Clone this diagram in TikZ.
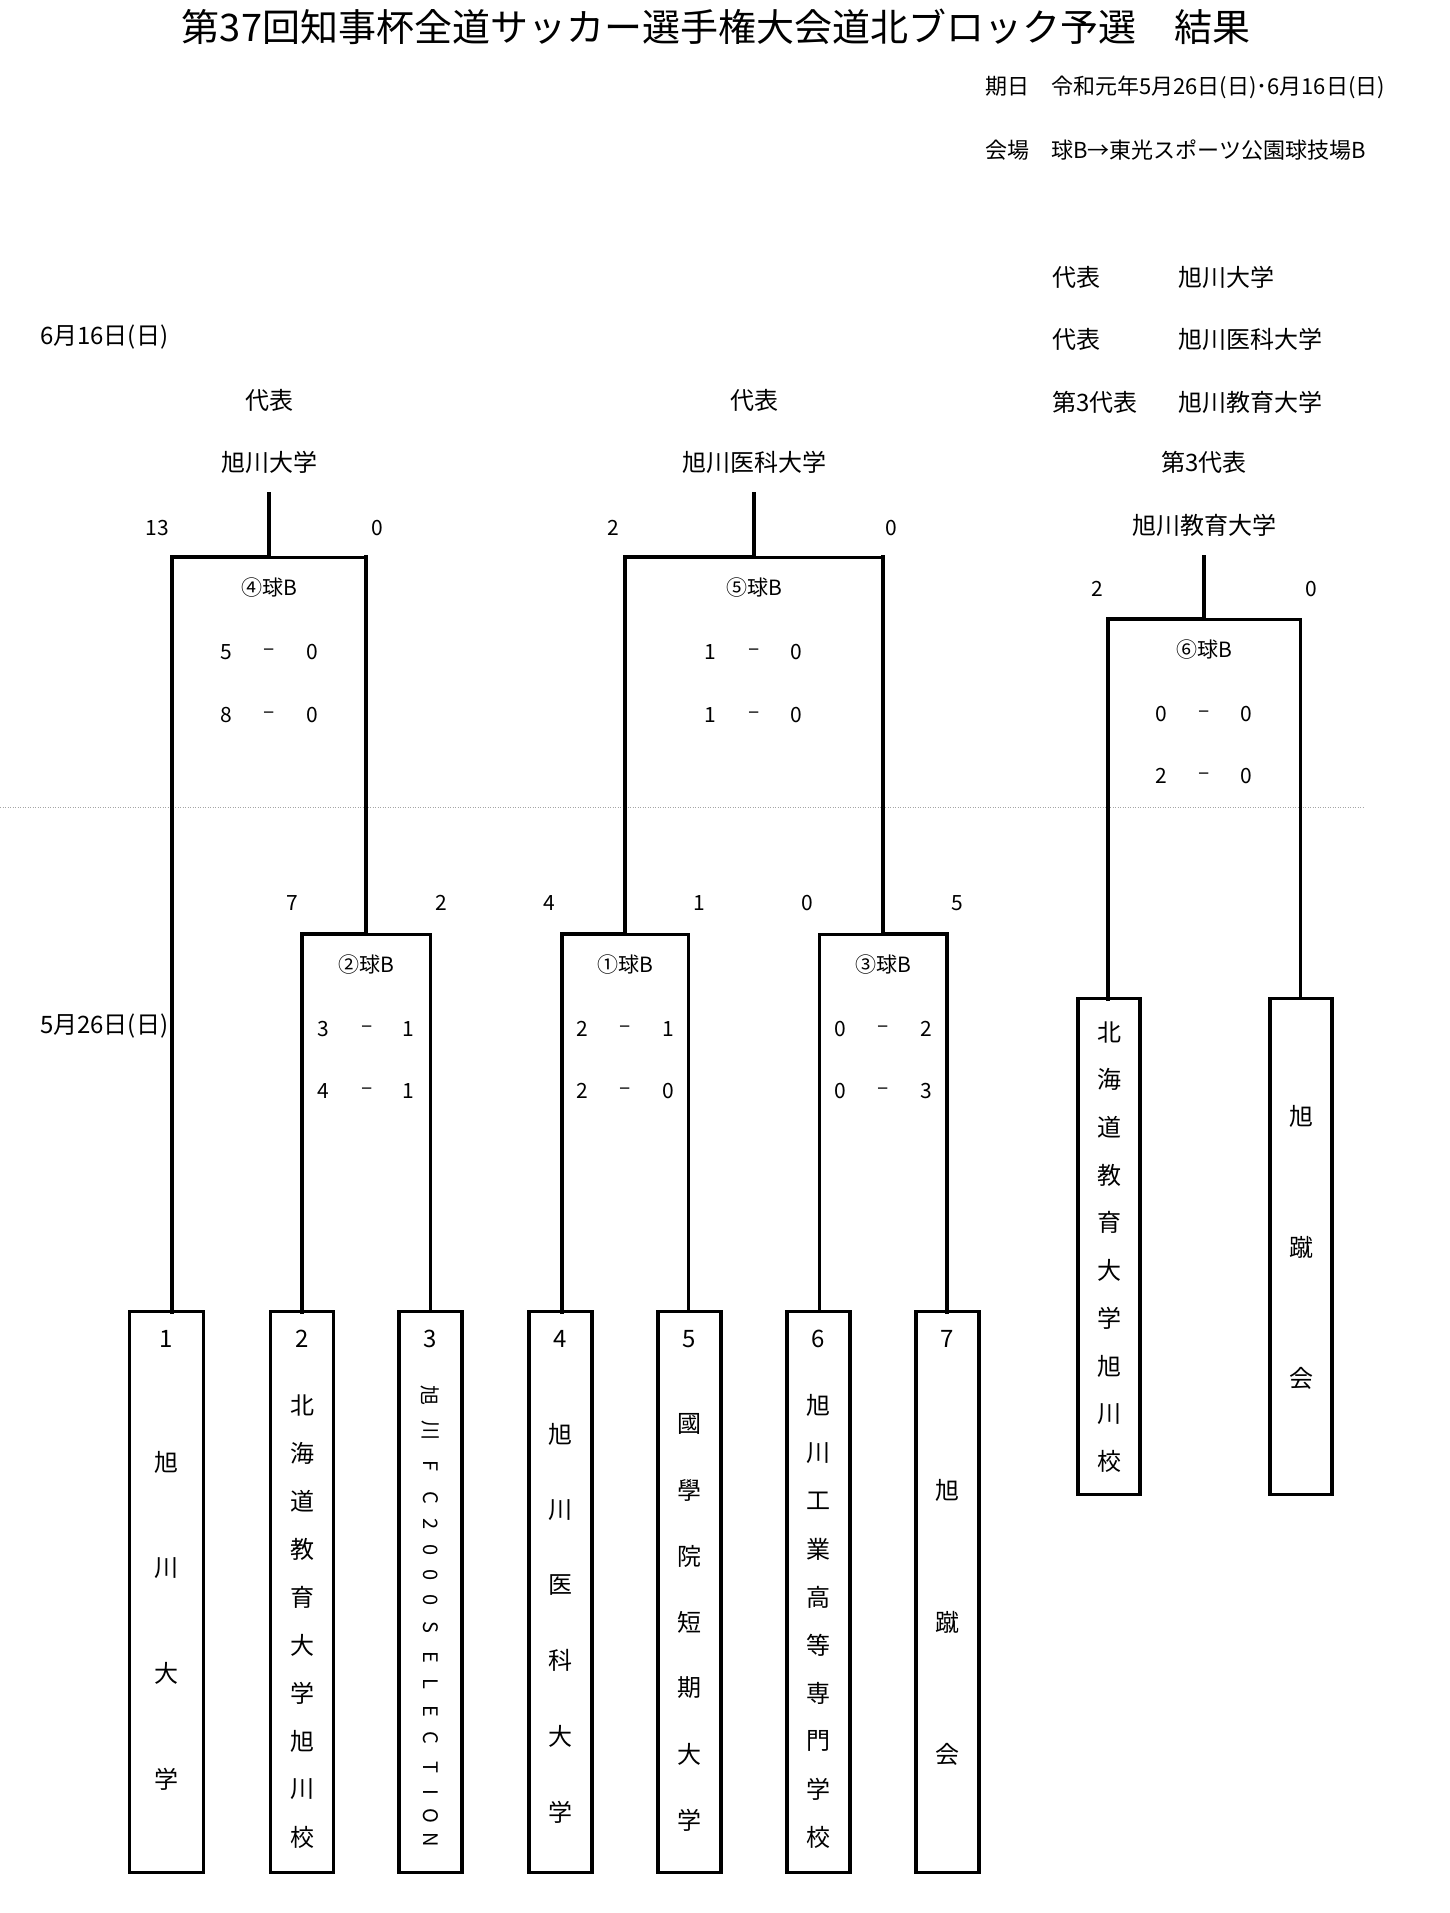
\documentclass[tikz,border=0pt]{standalone}
\usepackage{fontspec}
\setmainfont{Noto Sans CJK JP}
\begin{document}
\begin{tikzpicture}[x=1pt,y=-1pt,
  every node/.style={inner sep=0pt, outer sep=0pt},
  lab/.style={font=\fontsize{24}{28}\selectfont},
  sml/.style={font=\fontsize{21}{25}\selectfont},
  hdr/.style={font=\fontsize{22}{26}\selectfont},
  ttl/.style={font=\fontsize{38}{42}\selectfont},
  rot/.style={font=\fontsize{20}{24}\selectfont, rotate=-90},
  teambox/.style={draw, line width=3.2pt, minimum width=63pt, minimum height=561pt},
  sidebox/.style={draw, line width=3.2pt, minimum width=62pt, minimum height=496pt},
  win/.style={line width=4.6pt},
  lose/.style={line width=3pt},
  line cap=rect, line join=miter]
\fill[white] (0,0) rectangle (1450,1913);
\useasboundingbox (0,0) rectangle (1450,1913);

% title and header
\node[ttl] (title) at (716,27) {第37回知事杯全道サッカー選手権大会道北ブロック予選　結果};
\node[hdr, anchor=west] (date) at (985,87) {期日　令和元年5月26日(日)･6月16日(日)};
\node[hdr, anchor=west] (venue) at (985,150) {会場　球B→東光スポーツ公園球技場B};

% representatives list
\node[lab, anchor=west] (r1a) at (1052,277) {代表};
\node[lab, anchor=west] (r1b) at (1178,277) {旭川大学};
\node[lab, anchor=west] (r2a) at (1052,339) {代表};
\node[lab, anchor=west] (r2b) at (1178,339) {旭川医科大学};
\node[lab, anchor=west] (r3a) at (1052,402) {第3代表};
\node[lab, anchor=west] (r3b) at (1178,402) {旭川教育大学};

\node[lab, anchor=west] (d2) at (40,337) {6月16日(日)};
\node[lab, anchor=west] (d1) at (40,1026) {5月26日(日)};

% winners
\node[lab] (w4a) at (269,400) {代表};
\node[lab] (w4b) at (269,462) {旭川大学};
\node[lab] (w5a) at (754,400) {代表};
\node[lab] (w5b) at (754,462) {旭川医科大学};
\node[lab] (w6a) at (1204,462) {第3代表};
\node[lab] (w6b) at (1204,525) {旭川教育大学};

% dotted line
\coordinate (dl) at (0,807);
\coordinate (dr) at (1365,807);
\draw[black!35, line width=1pt, dash pattern=on 1pt off 1.5pt, line cap=butt] (dl) -- (dr);

% team boxes
\node[teambox, minimum width=74pt] (b1) at (166.5,1592) {};
\node[teambox] (b2) at (302,1592) {};
\node[teambox] (b3) at (430.5,1592) {};
\node[teambox] (b4) at (560.5,1592) {};
\node[teambox] (b5) at (689.5,1592) {};
\node[teambox] (b6) at (818.5,1592) {};
\node[teambox] (b7) at (947.5,1592) {};
\node[sidebox] (rb1) at (1109,1246.5) {};
\node[sidebox] (rb2) at (1301,1246.5) {};

% numbers
\node[lab] (n1) at (166.5,1339) {1};
\node[lab] (n2) at (302,1339) {2};
\node[lab] (n3) at (430.5,1339) {3};
\node[lab] (n4) at (560.5,1339) {4};
\node[lab] (n5) at (689.5,1339) {5};
\node[lab] (n6) at (818.5,1339) {6};
\node[lab] (n7) at (947.5,1339) {7};

% vertical names
\foreach \c [count=\k] in {旭,川,大,学}
  \node[lab] (t1c\k) at (166.5,{1462+(\k-1)*105.7}) {\c};
\foreach \c [count=\k] in {北,海,道,教,育,大,学,旭,川,校}
  \node[lab] (t2c\k) at (302,{1405+(\k-1)*48}) {\c};
\foreach \c/\yy [count=\k] in {旭/1395,川/1430,F/1466,C/1498,2/1524,0/1550,0/1575,0/1600,S/1627,E/1657,L/1684,E/1711,C/1738,T/1767,I/1792,O/1816,N/1840}
  \node[rot] (t3c\k) at (430.5,\yy) {\c};
\foreach \c [count=\k] in {旭,川,医,科,大,学}
  \node[lab] (t4c\k) at (560.5,{1434+(\k-1)*75.6}) {\c};
\foreach \c [count=\k] in {國,學,院,短,期,大,学}
  \node[lab] (t5c\k) at (689.5,{1424+(\k-1)*66}) {\c};
\foreach \c [count=\k] in {旭,川,工,業,高,等,専,門,学,校}
  \node[lab] (t6c\k) at (818.5,{1405+(\k-1)*48}) {\c};
\foreach \c [count=\k] in {旭,蹴,会}
  \node[lab] (t7c\k) at (947.5,{1490+(\k-1)*132}) {\c};
\foreach \c [count=\k] in {北,海,道,教,育,大,学,旭,川,校}
  \node[lab] (tr1c\k) at (1109,{1032+(\k-1)*47.7}) {\c};
\foreach \c [count=\k] in {旭,蹴,会}
  \node[lab] (tr2c\k) at (1301,{1116+(\k-1)*131}) {\c};

% bracket 4
\coordinate (s4) at (269,494); \coordinate (h4) at (269,557);
\coordinate (L4) at (172,557); \coordinate (R4) at (366,557);
% bracket 5
\coordinate (s5) at (754,494); \coordinate (h5) at (754,557);
\coordinate (L5) at (625,557); \coordinate (R5) at (883,557);
% bracket 6
\coordinate (s6) at (1204,557); \coordinate (h6) at (1204,619);
\coordinate (L6) at (1108,619); \coordinate (R6) at (1300,619);
% bracket 2, 1, 3
\coordinate (h2) at (366,934); \coordinate (L2) at (302,934); \coordinate (R2) at (430,934);
\coordinate (h1) at (625,934); \coordinate (L1) at (562,934); \coordinate (R1) at (688,934);
\coordinate (h3) at (883,934); \coordinate (L3) at (819,934); \coordinate (R3) at (947,934);

\draw[lose] (h4) -- (R4);
\draw[win] (b1.north -| L4) -- (L4) -- (h4) -- (s4);
\draw[lose] (h2) -- (R2) -- (b3.north -| R2);
\draw[win] (b2.north -| L2) -- (L2) -- (h2) -- (R4);

\draw[lose] (h5) -- (R5);
\draw[win] (L5) -- (h5) -- (s5);
\draw[lose] (h1) -- (R1) -- (b5.north -| R1);
\draw[win] (b4.north -| L1) -- (L1) -- (h1) -- (L5);
\draw[lose] (h3) -- (L3) -- (b6.north -| L3);
\draw[win] (b7.north -| R3) -- (R3) -- (h3) -- (R5);

\draw[lose] (h6) -- (R6) -- (rb2.north -| R6);
\draw[win] (rb1.north -| L6) -- (L6) -- (h6) -- (s6);

% scores bracket 4
\node[sml] (k4l) at (157,528) {13};
\node[sml] (k4r) at (377,528) {0};
\node[sml] (g4) at (269,588) {④球B};
\node[sml] (g4a1) at (226,652) {5}; \node[sml] (g4a2) at (269,652) {–}; \node[sml] (g4a3) at (312,652) {0};
\node[sml] (g4b1) at (226,715) {8}; \node[sml] (g4b2) at (269,715) {–}; \node[sml] (g4b3) at (312,715) {0};
% bracket 5
\node[sml] (k5l) at (613,528) {2};
\node[sml] (k5r) at (891,528) {0};
\node[sml] (g5) at (754,588) {⑤球B};
\node[sml] (g5a1) at (710,652) {1}; \node[sml] (g5a2) at (754,652) {–}; \node[sml] (g5a3) at (796,652) {0};
\node[sml] (g5b1) at (710,715) {1}; \node[sml] (g5b2) at (754,715) {–}; \node[sml] (g5b3) at (796,715) {0};
% bracket 6
\node[sml] (k6l) at (1097,589) {2};
\node[sml] (k6r) at (1311,589) {0};
\node[sml] (g6) at (1204,650) {⑥球B};
\node[sml] (g6a1) at (1161,714) {0}; \node[sml] (g6a2) at (1204,714) {–}; \node[sml] (g6a3) at (1246,714) {0};
\node[sml] (g6b1) at (1161,776) {2}; \node[sml] (g6b2) at (1204,776) {–}; \node[sml] (g6b3) at (1246,776) {0};
% bracket 2
\node[sml] (k2l) at (292,903) {7};
\node[sml] (k2r) at (441,903) {2};
\node[sml] (g2) at (366,965) {②球B};
\node[sml] (g2a1) at (323,1029) {3}; \node[sml] (g2a2) at (367,1029) {–}; \node[sml] (g2a3) at (408,1029) {1};
\node[sml] (g2b1) at (323,1091) {4}; \node[sml] (g2b2) at (367,1091) {–}; \node[sml] (g2b3) at (408,1091) {1};
% bracket 1
\node[sml] (k1l) at (549,903) {4};
\node[sml] (k1r) at (699,903) {1};
\node[sml] (g1) at (625,965) {①球B};
\node[sml] (g1a1) at (582,1029) {2}; \node[sml] (g1a2) at (625,1029) {–}; \node[sml] (g1a3) at (668,1029) {1};
\node[sml] (g1b1) at (582,1091) {2}; \node[sml] (g1b2) at (625,1091) {–}; \node[sml] (g1b3) at (668,1091) {0};
% bracket 3
\node[sml] (k3l) at (807,903) {0};
\node[sml] (k3r) at (957,903) {5};
\node[sml] (g3) at (883,965) {③球B};
\node[sml] (g3a1) at (840,1029) {0}; \node[sml] (g3a2) at (883,1029) {–}; \node[sml] (g3a3) at (926,1029) {2};
\node[sml] (g3b1) at (840,1091) {0}; \node[sml] (g3b2) at (883,1091) {–}; \node[sml] (g3b3) at (926,1091) {3};
\end{tikzpicture}
\end{document}
